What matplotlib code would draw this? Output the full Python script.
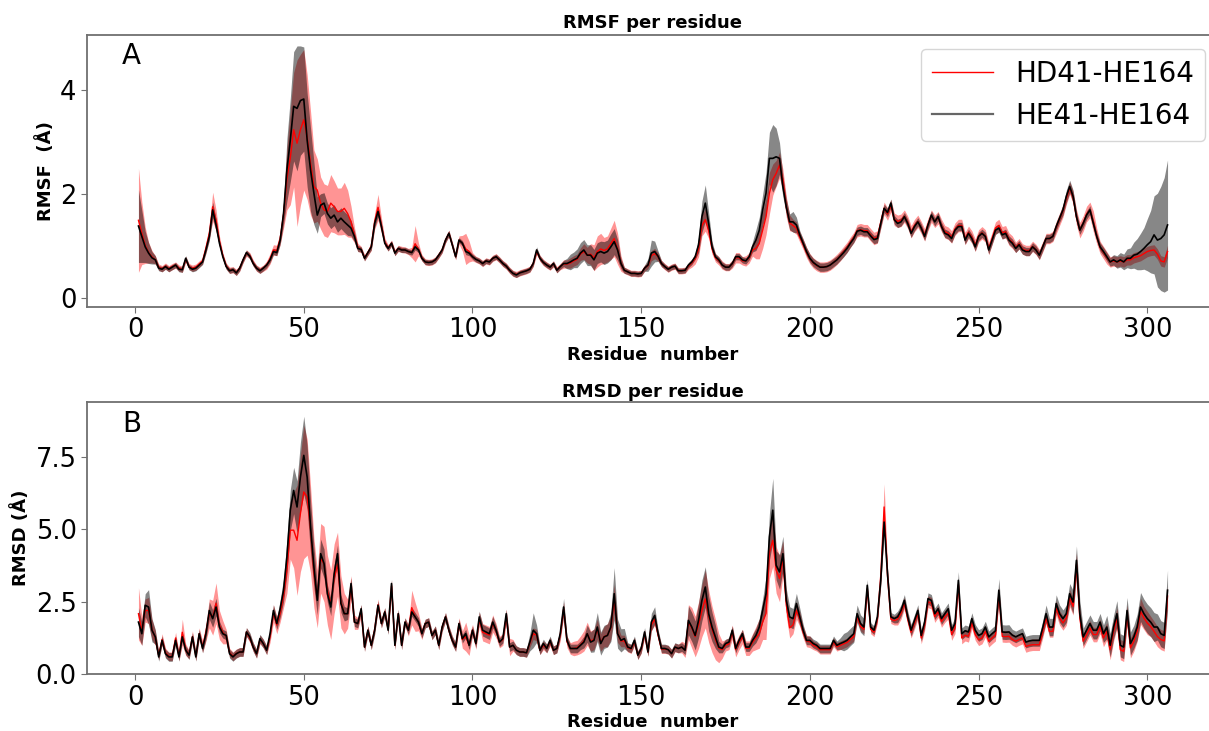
import numpy as np
from matplotlib import pyplot as plt
from matplotlib.lines import Line2D

# residue numbers 1..306
residues = np.arange(1, 307)

# ---------- panel A: RMSF (Angstrom) ----------
rmsf_he41 = [
    1.39, 1.19, 0.99, 0.87, 0.78, 0.74, 0.58, 0.56, 0.61, 0.56,
    0.60, 0.64, 0.56, 0.55, 0.77, 0.60, 0.56, 0.58, 0.64, 0.70,
    0.93, 1.19, 1.70, 1.41, 1.06, 0.80, 0.61, 0.53, 0.55, 0.49,
    0.58, 0.74, 0.88, 0.81, 0.67, 0.58, 0.53, 0.58, 0.64, 0.74,
    0.90, 0.88, 1.12, 1.63, 2.47, 3.04, 3.69, 3.65, 3.80, 3.83,
    3.04, 2.47, 2.02, 1.60, 1.79, 1.83, 1.63, 1.54, 1.60, 1.47,
    1.54, 1.47, 1.41, 1.35, 1.19, 0.96, 0.94, 0.77, 0.88, 0.99,
    1.44, 1.67, 1.38, 1.06, 0.96, 1.06, 0.87, 0.96, 0.93, 0.93,
    0.90, 0.88, 0.99, 0.93, 0.77, 0.70, 0.69, 0.70, 0.74, 0.83,
    0.93, 1.12, 1.25, 1.03, 0.80, 1.12, 1.06, 0.90, 0.87, 0.80,
    0.75, 0.72, 0.67, 0.72, 0.70, 0.77, 0.80, 0.74, 0.67, 0.62,
    0.54, 0.48, 0.45, 0.49, 0.51, 0.53, 0.56, 0.67, 0.93, 0.77,
    0.69, 0.64, 0.60, 0.67, 0.54, 0.61, 0.67, 0.67, 0.70, 0.74,
    0.77, 0.87, 0.93, 0.83, 0.83, 0.74, 0.87, 0.90, 0.87, 0.90,
    0.99, 1.09, 0.93, 0.67, 0.54, 0.51, 0.48, 0.48, 0.47, 0.48,
    0.58, 0.64, 0.87, 0.90, 0.81, 0.67, 0.61, 0.56, 0.60, 0.62,
    0.53, 0.53, 0.54, 0.64, 0.70, 0.80, 1.03, 1.57, 1.83, 1.44,
    0.99, 0.80, 0.74, 0.64, 0.60, 0.60, 0.67, 0.80, 0.80, 0.74,
    0.72, 0.80, 0.99, 1.12, 1.31, 1.70, 2.02, 2.69, 2.69, 2.72,
    2.69, 2.15, 1.76, 1.47, 1.47, 1.41, 1.22, 1.06, 0.90, 0.77,
    0.69, 0.64, 0.60, 0.60, 0.61, 0.64, 0.69, 0.74, 0.81, 0.88,
    0.96, 1.06, 1.15, 1.29, 1.31, 1.28, 1.28, 1.20, 1.13, 1.15,
    1.44, 1.73, 1.65, 1.83, 1.51, 1.44, 1.47, 1.57, 1.44, 1.25,
    1.38, 1.47, 1.35, 1.19, 1.41, 1.60, 1.47, 1.57, 1.38, 1.25,
    1.22, 1.15, 1.31, 1.38, 1.38, 1.12, 1.25, 1.15, 0.99, 1.19,
    1.25, 1.19, 0.93, 1.12, 1.31, 1.35, 1.22, 1.25, 1.12, 1.06,
    0.96, 1.03, 0.93, 0.90, 0.90, 0.99, 0.93, 0.83, 0.99, 1.15,
    1.15, 1.19, 1.38, 1.54, 1.70, 1.96, 2.15, 1.96, 1.57, 1.31,
    1.44, 1.60, 1.70, 1.44, 1.19, 0.99, 0.90, 0.80, 0.70, 0.74,
    0.70, 0.74, 0.70, 0.77, 0.77, 0.83, 0.85, 0.90, 0.96, 1.03,
    1.09, 1.22, 1.12, 1.15, 1.22, 1.41,
]
rmsf_he41_sd = [
    0.70, 0.50, 0.30, 0.20, 0.12, 0.08, 0.05, 0.05, 0.05, 0.05,
    0.05, 0.05, 0.05, 0.05, 0.05, 0.05, 0.05, 0.05, 0.05, 0.05,
    0.06, 0.08, 0.15, 0.12, 0.06, 0.05, 0.05, 0.05, 0.05, 0.05,
    0.05, 0.05, 0.05, 0.05, 0.05, 0.05, 0.05, 0.05, 0.05, 0.05,
    0.06, 0.06, 0.08, 0.20, 0.60, 0.80, 1.05, 1.20, 1.05, 1.00,
    0.90, 0.80, 0.60, 0.35, 0.22, 0.20, 0.20, 0.20, 0.20, 0.20,
    0.20, 0.20, 0.20, 0.15, 0.10, 0.06, 0.05, 0.05, 0.05, 0.06,
    0.08, 0.10, 0.08, 0.05, 0.05, 0.05, 0.05, 0.05, 0.05, 0.05,
    0.05, 0.05, 0.06, 0.05, 0.05, 0.05, 0.05, 0.05, 0.05, 0.05,
    0.05, 0.05, 0.06, 0.05, 0.05, 0.05, 0.05, 0.06, 0.05, 0.05,
    0.05, 0.05, 0.05, 0.05, 0.05, 0.05, 0.05, 0.05, 0.05, 0.05,
    0.05, 0.05, 0.05, 0.05, 0.05, 0.05, 0.05, 0.05, 0.06, 0.05,
    0.05, 0.05, 0.05, 0.05, 0.05, 0.05, 0.06, 0.10, 0.15, 0.15,
    0.18, 0.20, 0.20, 0.20, 0.20, 0.20, 0.20, 0.20, 0.22, 0.22,
    0.25, 0.25, 0.20, 0.10, 0.06, 0.05, 0.05, 0.05, 0.05, 0.05,
    0.06, 0.12, 0.25, 0.20, 0.10, 0.06, 0.05, 0.05, 0.05, 0.05,
    0.05, 0.05, 0.05, 0.05, 0.05, 0.05, 0.15, 0.30, 0.35, 0.20,
    0.10, 0.06, 0.06, 0.06, 0.06, 0.06, 0.06, 0.06, 0.06, 0.06,
    0.06, 0.06, 0.10, 0.20, 0.25, 0.30, 0.40, 0.50, 0.65, 0.55,
    0.30, 0.20, 0.15, 0.15, 0.20, 0.15, 0.08, 0.08, 0.08, 0.08,
    0.08, 0.08, 0.08, 0.08, 0.08, 0.08, 0.08, 0.08, 0.08, 0.08,
    0.08, 0.08, 0.08, 0.08, 0.08, 0.08, 0.08, 0.08, 0.08, 0.08,
    0.08, 0.08, 0.08, 0.08, 0.08, 0.08, 0.08, 0.08, 0.08, 0.08,
    0.08, 0.08, 0.08, 0.08, 0.08, 0.08, 0.08, 0.08, 0.08, 0.08,
    0.08, 0.08, 0.08, 0.08, 0.08, 0.08, 0.08, 0.08, 0.08, 0.08,
    0.08, 0.08, 0.08, 0.08, 0.08, 0.08, 0.08, 0.08, 0.08, 0.08,
    0.08, 0.08, 0.08, 0.08, 0.08, 0.08, 0.08, 0.08, 0.08, 0.08,
    0.08, 0.08, 0.08, 0.08, 0.10, 0.12, 0.12, 0.12, 0.10, 0.08,
    0.08, 0.08, 0.08, 0.08, 0.08, 0.08, 0.08, 0.08, 0.08, 0.10,
    0.12, 0.14, 0.15, 0.18, 0.20, 0.25, 0.30, 0.35, 0.40, 0.50,
    0.60, 0.75, 0.90, 1.00, 1.10, 1.25,
]
rmsf_hd41 = [
    1.50, 1.25, 1.02, 0.88, 0.80, 0.74, 0.60, 0.57, 0.62, 0.57,
    0.61, 0.64, 0.58, 0.56, 0.75, 0.61, 0.58, 0.60, 0.66, 0.72,
    0.97, 1.25, 1.76, 1.50, 1.10, 0.82, 0.62, 0.54, 0.55, 0.50,
    0.58, 0.74, 0.87, 0.82, 0.68, 0.58, 0.54, 0.58, 0.64, 0.76,
    0.93, 0.92, 1.15, 1.60, 2.30, 2.70, 3.24, 2.98, 3.24, 3.43,
    3.10, 2.60, 2.15, 2.08, 1.83, 1.70, 1.67, 1.83, 1.76, 1.67,
    1.67, 1.73, 1.63, 1.47, 1.22, 0.98, 0.94, 0.78, 0.88, 1.00,
    1.48, 1.75, 1.40, 1.08, 0.97, 1.06, 0.88, 0.96, 0.94, 0.93,
    0.90, 0.88, 1.05, 0.94, 0.78, 0.70, 0.69, 0.70, 0.74, 0.83,
    0.93, 1.12, 1.25, 1.03, 0.80, 1.12, 1.06, 0.95, 0.90, 0.80,
    0.75, 0.72, 0.67, 0.72, 0.70, 0.77, 0.80, 0.74, 0.67, 0.62,
    0.54, 0.48, 0.46, 0.49, 0.51, 0.53, 0.56, 0.67, 0.90, 0.77,
    0.69, 0.64, 0.60, 0.66, 0.55, 0.61, 0.66, 0.66, 0.68, 0.72,
    0.75, 0.85, 0.90, 0.83, 0.85, 0.78, 0.90, 0.95, 0.92, 0.95,
    1.05, 1.15, 0.95, 0.67, 0.54, 0.51, 0.48, 0.48, 0.47, 0.48,
    0.58, 0.63, 0.82, 0.86, 0.80, 0.67, 0.61, 0.56, 0.60, 0.62,
    0.53, 0.53, 0.54, 0.62, 0.68, 0.76, 0.95, 1.40, 1.51, 1.30,
    0.95, 0.78, 0.72, 0.64, 0.60, 0.60, 0.66, 0.78, 0.78, 0.72,
    0.72, 0.78, 0.93, 0.96, 1.06, 1.31, 1.57, 2.02, 2.28, 2.40,
    2.56, 2.28, 1.76, 1.45, 1.40, 1.35, 1.18, 1.04, 0.88, 0.76,
    0.68, 0.63, 0.60, 0.60, 0.61, 0.64, 0.69, 0.75, 0.82, 0.90,
    0.98, 1.08, 1.17, 1.30, 1.32, 1.30, 1.30, 1.22, 1.15, 1.18,
    1.46, 1.73, 1.62, 1.78, 1.52, 1.48, 1.50, 1.58, 1.46, 1.28,
    1.40, 1.48, 1.36, 1.22, 1.42, 1.58, 1.48, 1.55, 1.40, 1.28,
    1.25, 1.18, 1.33, 1.40, 1.40, 1.15, 1.27, 1.18, 1.02, 1.20,
    1.26, 1.20, 0.96, 1.15, 1.35, 1.40, 1.26, 1.28, 1.14, 1.08,
    0.98, 1.05, 0.95, 0.92, 0.92, 1.00, 0.94, 0.84, 0.99, 1.15,
    1.15, 1.19, 1.36, 1.52, 1.68, 1.92, 2.12, 1.94, 1.56, 1.31,
    1.44, 1.62, 1.70, 1.48, 1.20, 0.98, 0.88, 0.78, 0.70, 0.72,
    0.70, 0.72, 0.70, 0.74, 0.74, 0.78, 0.80, 0.82, 0.86, 0.90,
    0.92, 0.93, 0.85, 0.72, 0.70, 0.90,
]
rmsf_hd41_sd = [
    1.00, 0.60, 0.35, 0.20, 0.12, 0.08, 0.06, 0.06, 0.06, 0.06,
    0.06, 0.06, 0.06, 0.06, 0.06, 0.06, 0.06, 0.06, 0.06, 0.06,
    0.10, 0.12, 0.28, 0.20, 0.10, 0.06, 0.06, 0.06, 0.06, 0.06,
    0.06, 0.06, 0.06, 0.06, 0.06, 0.06, 0.06, 0.06, 0.08, 0.10,
    0.10, 0.10, 0.12, 0.25, 0.60, 0.90, 1.10, 1.60, 1.45, 1.35,
    1.20, 1.00, 0.70, 0.60, 0.50, 0.50, 0.50, 0.55, 0.50, 0.45,
    0.45, 0.50, 0.45, 0.30, 0.15, 0.08, 0.06, 0.06, 0.06, 0.08,
    0.15, 0.25, 0.15, 0.08, 0.06, 0.06, 0.06, 0.06, 0.06, 0.06,
    0.06, 0.10, 0.35, 0.12, 0.06, 0.06, 0.06, 0.06, 0.06, 0.06,
    0.06, 0.06, 0.06, 0.06, 0.06, 0.08, 0.15, 0.30, 0.20, 0.08,
    0.06, 0.06, 0.06, 0.06, 0.06, 0.06, 0.06, 0.06, 0.06, 0.06,
    0.06, 0.06, 0.06, 0.06, 0.06, 0.06, 0.06, 0.06, 0.06, 0.06,
    0.06, 0.06, 0.06, 0.06, 0.06, 0.06, 0.08, 0.08, 0.10, 0.10,
    0.10, 0.12, 0.15, 0.15, 0.20, 0.25, 0.30, 0.30, 0.25, 0.25,
    0.30, 0.35, 0.30, 0.15, 0.06, 0.06, 0.06, 0.06, 0.06, 0.06,
    0.06, 0.06, 0.10, 0.10, 0.08, 0.06, 0.06, 0.06, 0.06, 0.06,
    0.06, 0.06, 0.06, 0.06, 0.08, 0.10, 0.15, 0.20, 0.22, 0.15,
    0.10, 0.08, 0.08, 0.08, 0.07, 0.07, 0.08, 0.10, 0.10, 0.08,
    0.10, 0.10, 0.12, 0.20, 0.30, 0.35, 0.35, 0.40, 0.30, 0.25,
    0.25, 0.20, 0.20, 0.15, 0.12, 0.12, 0.10, 0.10, 0.10, 0.10,
    0.10, 0.10, 0.10, 0.10, 0.10, 0.10, 0.10, 0.10, 0.10, 0.10,
    0.10, 0.10, 0.10, 0.12, 0.12, 0.12, 0.12, 0.12, 0.12, 0.12,
    0.12, 0.12, 0.12, 0.12, 0.12, 0.12, 0.12, 0.12, 0.12, 0.12,
    0.12, 0.12, 0.12, 0.12, 0.12, 0.12, 0.12, 0.12, 0.12, 0.12,
    0.12, 0.12, 0.12, 0.12, 0.12, 0.12, 0.12, 0.12, 0.12, 0.12,
    0.12, 0.12, 0.12, 0.12, 0.12, 0.12, 0.12, 0.12, 0.12, 0.12,
    0.10, 0.10, 0.10, 0.10, 0.10, 0.10, 0.10, 0.10, 0.10, 0.10,
    0.10, 0.10, 0.12, 0.12, 0.12, 0.12, 0.12, 0.12, 0.15, 0.15,
    0.15, 0.15, 0.15, 0.20, 0.15, 0.12, 0.12, 0.12, 0.10, 0.10,
    0.10, 0.10, 0.10, 0.10, 0.10, 0.10, 0.10, 0.10, 0.10, 0.10,
    0.10, 0.10, 0.10, 0.10, 0.10, 0.12,
]

# ---------- panel B: RMSD (Angstrom) ----------
rmsd_he41 = [
    1.80, 1.40, 2.38, 2.32, 1.52, 1.29, 0.60, 1.17, 0.71, 0.60,
    0.60, 1.17, 0.60, 1.29, 0.83, 0.66, 1.29, 0.60, 1.40, 0.89,
    1.40, 2.20, 1.92, 2.32, 1.63, 1.40, 1.34, 0.71, 0.60, 0.71,
    0.77, 0.77, 1.46, 1.29, 0.94, 0.71, 1.23, 1.06, 0.83, 1.40,
    2.20, 1.75, 2.26, 2.90, 4.05, 5.66, 6.34, 5.77, 6.80, 7.55,
    6.80, 5.08, 3.70, 2.55, 4.16, 3.82, 2.78, 2.32, 3.47, 4.16,
    2.44, 2.09, 2.09, 3.13, 1.80, 1.75, 2.26, 0.94, 1.52, 1.00,
    1.52, 2.38, 1.75, 2.15, 1.52, 3.13, 1.00, 2.09, 1.00, 1.80,
    1.52, 2.15, 1.98, 1.80, 1.40, 1.75, 1.80, 1.34, 1.52, 1.00,
    1.63, 1.98, 1.52, 1.17, 0.94, 1.75, 1.23, 1.40, 1.00, 1.52,
    1.06, 1.98, 1.52, 1.46, 1.40, 1.80, 1.52, 1.11, 1.23, 2.09,
    0.94, 1.00, 0.83, 0.77, 0.77, 0.74, 1.11, 1.52, 1.40, 0.83,
    1.06, 0.89, 1.17, 0.83, 0.89, 1.40, 2.32, 1.17, 0.89, 0.89,
    0.89, 1.00, 1.11, 1.40, 1.11, 1.17, 1.63, 1.06, 1.29, 1.34,
    1.63, 2.78, 1.40, 1.17, 1.23, 0.94, 0.89, 1.17, 0.66, 0.89,
    1.46, 0.77, 1.80, 2.03, 1.40, 0.89, 0.89, 0.85, 0.71, 0.94,
    0.89, 0.94, 0.83, 1.86, 1.63, 1.34, 1.86, 2.55, 3.01, 2.09,
    1.63, 1.29, 0.94, 0.89, 1.06, 1.11, 1.52, 0.89, 1.17, 1.40,
    0.94, 0.94, 1.17, 1.34, 1.63, 2.20, 2.78, 4.74, 5.66, 3.76,
    3.53, 4.16, 2.55, 1.98, 1.92, 2.44, 1.98, 1.52, 1.17, 1.17,
    1.06, 1.00, 0.89, 0.89, 0.89, 0.89, 1.17, 1.00, 1.06, 1.11,
    1.17, 1.29, 1.40, 2.09, 1.75, 1.63, 3.07, 1.63, 1.52, 1.98,
    3.24, 5.25, 3.47, 1.98, 1.92, 1.98, 2.20, 2.55, 1.98, 1.52,
    1.86, 2.20, 1.34, 1.80, 2.61, 2.55, 2.09, 2.26, 1.92, 2.09,
    2.26, 1.52, 1.75, 3.24, 1.40, 1.50, 1.46, 1.92, 1.52, 1.34,
    1.40, 1.63, 1.29, 1.40, 1.50, 2.90, 1.46, 1.45, 1.46, 1.35,
    1.29, 1.35, 1.40, 1.11, 1.15, 1.17, 1.17, 1.17, 1.60, 2.09,
    1.63, 1.63, 2.44, 2.09, 1.92, 2.09, 2.78, 2.49, 3.93, 2.09,
    1.29, 1.52, 1.75, 1.52, 1.52, 1.80, 1.40, 1.63, 1.00, 1.63,
    2.09, 1.00, 0.94, 2.20, 1.06, 1.29, 1.63, 2.32, 2.09, 1.92,
    1.80, 1.63, 1.63, 1.40, 1.34, 2.90,
]
rmsd_he41_sd = [
    0.50, 0.40, 0.40, 0.60, 0.40, 0.25, 0.15, 0.15, 0.15, 0.15,
    0.15, 0.15, 0.15, 0.15, 0.15, 0.15, 0.15, 0.15, 0.15, 0.15,
    0.20, 0.30, 0.30, 0.30, 0.20, 0.15, 0.15, 0.15, 0.15, 0.15,
    0.15, 0.15, 0.15, 0.15, 0.15, 0.15, 0.15, 0.15, 0.15, 0.15,
    0.20, 0.20, 0.30, 0.40, 0.60, 0.70, 0.80, 0.90, 1.20, 1.35,
    1.10, 0.90, 0.70, 0.50, 0.50, 0.50, 0.30, 0.30, 0.30, 0.30,
    0.30, 0.25, 0.20, 0.20, 0.15, 0.15, 0.15, 0.15, 0.15, 0.15,
    0.15, 0.15, 0.15, 0.15, 0.15, 0.15, 0.15, 0.15, 0.15, 0.15,
    0.15, 0.15, 0.15, 0.15, 0.15, 0.15, 0.15, 0.15, 0.15, 0.15,
    0.15, 0.15, 0.15, 0.15, 0.15, 0.15, 0.15, 0.15, 0.15, 0.15,
    0.15, 0.20, 0.20, 0.20, 0.20, 0.20, 0.15, 0.15, 0.15, 0.15,
    0.15, 0.15, 0.15, 0.15, 0.15, 0.15, 0.30, 0.60, 0.30, 0.15,
    0.15, 0.15, 0.15, 0.15, 0.15, 0.15, 0.30, 0.15, 0.15, 0.15,
    0.15, 0.15, 0.20, 0.30, 0.35, 0.40, 0.50, 0.40, 0.40, 0.40,
    0.50, 0.90, 0.50, 0.40, 0.35, 0.15, 0.15, 0.15, 0.15, 0.15,
    0.15, 0.15, 0.30, 0.30, 0.15, 0.15, 0.15, 0.15, 0.15, 0.15,
    0.15, 0.15, 0.15, 0.50, 0.50, 0.50, 0.60, 0.70, 0.70, 0.60,
    0.50, 0.40, 0.20, 0.15, 0.15, 0.15, 0.15, 0.15, 0.15, 0.15,
    0.15, 0.15, 0.20, 0.25, 0.30, 0.40, 0.60, 0.80, 1.10, 0.50,
    0.60, 0.60, 0.40, 0.35, 0.35, 0.35, 0.30, 0.20, 0.15, 0.15,
    0.15, 0.15, 0.15, 0.15, 0.15, 0.15, 0.15, 0.15, 0.20, 0.30,
    0.30, 0.30, 0.30, 0.30, 0.30, 0.30, 0.20, 0.15, 0.15, 0.15,
    0.20, 0.30, 0.20, 0.15, 0.15, 0.20, 0.20, 0.20, 0.20, 0.20,
    0.20, 0.20, 0.20, 0.20, 0.20, 0.20, 0.20, 0.20, 0.20, 0.20,
    0.20, 0.20, 0.20, 0.30, 0.20, 0.20, 0.20, 0.20, 0.20, 0.20,
    0.20, 0.20, 0.20, 0.20, 0.20, 0.40, 0.25, 0.25, 0.25, 0.20,
    0.20, 0.20, 0.20, 0.20, 0.20, 0.20, 0.20, 0.20, 0.25, 0.30,
    0.30, 0.30, 0.30, 0.30, 0.30, 0.30, 0.35, 0.40, 0.50, 0.45,
    0.30, 0.30, 0.30, 0.30, 0.30, 0.30, 0.30, 0.40, 0.40, 0.40,
    0.45, 0.40, 0.40, 0.45, 0.40, 0.40, 0.45, 0.50, 0.50, 0.50,
    0.50, 0.50, 0.45, 0.45, 0.45, 0.70,
]
rmsd_hd41 = [
    2.09, 1.50, 2.20, 2.20, 1.55, 1.25, 0.65, 1.20, 0.75, 0.62,
    0.62, 1.25, 0.62, 1.45, 0.85, 0.68, 1.30, 0.62, 1.40, 0.95,
    1.45, 2.10, 1.95, 2.45, 1.70, 1.45, 1.30, 0.75, 0.62, 0.72,
    0.77, 0.77, 1.46, 1.25, 0.94, 0.71, 1.20, 1.06, 0.83, 1.30,
    2.10, 1.70, 2.10, 2.70, 3.60, 4.97, 4.97, 4.62, 5.54, 6.29,
    6.11, 5.00, 3.50, 2.60, 4.00, 3.80, 2.90, 2.40, 3.30, 3.80,
    2.50, 2.09, 2.09, 3.00, 1.80, 1.75, 2.20, 0.94, 1.52, 1.00,
    1.55, 2.40, 1.75, 2.15, 1.55, 3.05, 1.00, 2.09, 1.00, 1.80,
    1.52, 2.30, 1.98, 1.80, 1.40, 1.75, 1.80, 1.34, 1.52, 1.00,
    1.63, 1.98, 1.52, 1.17, 0.94, 1.75, 1.20, 1.30, 1.00, 1.52,
    1.06, 1.90, 1.45, 1.40, 1.35, 1.75, 1.50, 1.11, 1.20, 2.00,
    0.94, 1.00, 0.83, 0.77, 0.77, 0.74, 1.08, 1.40, 1.35, 0.83,
    1.00, 0.89, 1.12, 0.83, 0.89, 1.35, 2.25, 1.12, 0.89, 0.89,
    0.92, 1.02, 1.15, 1.40, 1.15, 1.20, 1.55, 1.10, 1.30, 1.35,
    1.60, 2.60, 1.40, 1.15, 1.15, 0.92, 0.87, 1.12, 0.66, 0.87,
    1.40, 0.77, 1.70, 1.90, 1.35, 0.87, 0.87, 0.85, 0.71, 0.92,
    0.89, 0.94, 0.83, 1.80, 1.60, 1.30, 1.70, 2.20, 2.60, 2.00,
    1.55, 1.20, 0.90, 0.85, 1.00, 1.05, 1.45, 0.85, 1.10, 1.30,
    0.90, 0.90, 1.10, 1.25, 1.40, 1.80, 2.10, 4.20, 4.62, 3.60,
    3.30, 4.00, 2.40, 1.60, 1.70, 2.20, 1.90, 1.45, 1.15, 1.12,
    1.00, 0.95, 0.85, 0.85, 0.85, 0.85, 1.10, 0.95, 1.00, 1.05,
    1.10, 1.20, 1.30, 2.00, 1.65, 1.55, 2.95, 1.55, 1.45, 1.90,
    3.40, 5.77, 3.40, 1.90, 1.85, 1.90, 2.10, 2.45, 1.90, 1.45,
    1.76, 2.10, 1.25, 1.70, 2.50, 2.45, 1.99, 2.16, 1.82, 1.99,
    2.11, 1.37, 1.60, 3.09, 1.25, 1.35, 1.31, 1.77, 1.37, 1.19,
    1.25, 1.48, 1.14, 1.25, 1.35, 2.75, 1.31, 1.30, 1.31, 1.20,
    1.14, 1.20, 1.25, 0.96, 1.00, 1.02, 1.02, 1.02, 1.45, 1.94,
    1.48, 1.48, 2.29, 1.94, 1.77, 1.94, 2.63, 2.34, 3.78, 1.94,
    1.14, 1.37, 1.60, 1.37, 1.37, 1.65, 1.25, 1.48, 0.85, 1.48,
    1.94, 0.85, 0.79, 2.05, 0.91, 1.14, 1.48, 2.17, 1.94, 1.77,
    1.65, 1.48, 1.30, 1.20, 1.15, 2.70,
]
rmsd_hd41_sd = [
    0.90, 0.50, 0.40, 0.45, 0.35, 0.25, 0.15, 0.20, 0.15, 0.15,
    0.15, 0.20, 0.15, 0.45, 0.20, 0.15, 0.20, 0.15, 0.20, 0.20,
    0.30, 0.50, 0.60, 0.70, 0.50, 0.40, 0.25, 0.15, 0.15, 0.15,
    0.15, 0.15, 0.15, 0.15, 0.15, 0.15, 0.15, 0.15, 0.15, 0.20,
    0.30, 0.30, 0.30, 0.40, 0.80, 1.00, 1.30, 1.90, 2.00, 2.30,
    2.00, 1.50, 1.20, 1.00, 1.20, 1.30, 1.20, 1.20, 1.20, 1.10,
    0.90, 0.70, 0.50, 0.40, 0.25, 0.20, 0.20, 0.15, 0.15, 0.15,
    0.15, 0.20, 0.15, 0.15, 0.15, 0.20, 0.15, 0.15, 0.15, 0.15,
    0.20, 0.60, 0.50, 0.30, 0.20, 0.15, 0.15, 0.15, 0.15, 0.15,
    0.15, 0.15, 0.15, 0.15, 0.15, 0.20, 0.30, 0.50, 0.35, 0.20,
    0.20, 0.25, 0.30, 0.30, 0.30, 0.30, 0.25, 0.20, 0.20, 0.25,
    0.30, 0.20, 0.15, 0.15, 0.15, 0.15, 0.15, 0.20, 0.20, 0.15,
    0.15, 0.15, 0.15, 0.15, 0.15, 0.20, 0.25, 0.20, 0.20, 0.25,
    0.25, 0.30, 0.35, 0.40, 0.35, 0.35, 0.35, 0.30, 0.35, 0.40,
    0.40, 0.50, 0.30, 0.20, 0.20, 0.15, 0.15, 0.15, 0.15, 0.15,
    0.15, 0.15, 0.20, 0.20, 0.15, 0.15, 0.15, 0.15, 0.15, 0.15,
    0.15, 0.20, 0.25, 0.60, 0.70, 0.70, 0.80, 0.90, 1.00, 0.90,
    0.80, 0.70, 0.50, 0.30, 0.20, 0.20, 0.25, 0.25, 0.25, 0.25,
    0.25, 0.25, 0.30, 0.40, 0.50, 0.60, 0.90, 0.90, 0.90, 0.80,
    0.80, 0.60, 0.40, 0.35, 0.30, 0.30, 0.25, 0.20, 0.20, 0.20,
    0.15, 0.15, 0.15, 0.15, 0.15, 0.15, 0.15, 0.15, 0.15, 0.15,
    0.15, 0.15, 0.15, 0.15, 0.15, 0.15, 0.15, 0.15, 0.15, 0.15,
    0.30, 0.80, 0.30, 0.15, 0.15, 0.20, 0.20, 0.20, 0.20, 0.20,
    0.20, 0.20, 0.20, 0.20, 0.20, 0.20, 0.20, 0.20, 0.20, 0.20,
    0.20, 0.20, 0.20, 0.20, 0.20, 0.20, 0.20, 0.20, 0.20, 0.20,
    0.20, 0.20, 0.20, 0.20, 0.20, 0.25, 0.20, 0.20, 0.20, 0.20,
    0.20, 0.20, 0.20, 0.20, 0.20, 0.20, 0.20, 0.20, 0.20, 0.20,
    0.20, 0.20, 0.25, 0.25, 0.25, 0.25, 0.30, 0.30, 0.40, 0.30,
    0.25, 0.25, 0.25, 0.25, 0.25, 0.25, 0.30, 0.30, 0.35, 0.35,
    0.35, 0.35, 0.35, 0.35, 0.35, 0.35, 0.35, 0.45, 0.40, 0.40,
    0.35, 0.35, 0.35, 0.35, 0.35, 0.35,
]

labels = ["HD41-HE164", "HE41-HE164"]

SPINE = "#707070"


def style_axis(ax):
    for s in ax.spines.values():
        s.set_color(SPINE)
        s.set_linewidth(1.3)
    # right edge of the axes sits outside the saved image
    ax.spines["right"].set_visible(False)
    ax.tick_params(axis="both", labelsize=18.5, color=SPINE, length=4)
    ax.set_xlim(-14.25, 321.25)


def draw_panel(ax, red_mean, red_sd, blk_mean, blk_sd):
    red_mean, red_sd = np.array(red_mean), np.array(red_sd)
    blk_mean, blk_sd = np.array(blk_mean), np.array(blk_sd)
    ax.fill_between(residues, red_mean - red_sd, red_mean + red_sd,
                    color="red", alpha=0.42, lw=0)
    ax.fill_between(residues, blk_mean - blk_sd, blk_mean + blk_sd,
                    color="black", alpha=0.47, lw=0)
    ax.plot(residues, red_mean, color="red", lw=1.0)
    ax.plot(residues, blk_mean, color="black", lw=1.2)


fig = plt.figure(figsize=(12.09, 7.31), dpi=100)
W, H = 1209.0, 731.0
ax1 = fig.add_axes([87 / W, 1 - 306.7 / H, (1219 - 87) / W, (306.7 - 35) / H])
ax2 = fig.add_axes([87 / W, 1 - 674.3 / H, (1219 - 87) / W, (674.3 - 402.3) / H])

# panel A
draw_panel(ax1, rmsf_hd41, rmsf_hd41_sd, rmsf_he41, rmsf_he41_sd)
style_axis(ax1)
ax1.set_ylim(-0.16, 5.06)
ax1.set_yticks([0, 2, 4])
ax1.set_title("RMSF per residue", fontsize=13, fontweight="bold", pad=5)
ax1.set_xlabel("Residue  number", fontsize=13, fontweight="bold", labelpad=2)
ax1.set_ylabel("RMSF  (Å)", fontsize=13, fontweight="bold")
ax1.text(0.031, 0.895, "A", transform=ax1.transAxes, fontsize=20)
handles = [Line2D([], [], color="red", lw=1.0),
           Line2D([], [], color="#666666", lw=1.6)]
ax1.legend(handles, labels, loc="upper right", fontsize=20,
           handlelength=2.2, borderaxespad=0.5)

# panel B
draw_panel(ax2, rmsd_hd41, rmsd_hd41_sd, rmsd_he41, rmsd_he41_sd)
style_axis(ax2)
ax2.set_ylim(0, 9.38)
ax2.set_yticks([0.0, 2.5, 5.0, 7.5])
ax2.set_title("RMSD per residue", fontsize=13, fontweight="bold", pad=4)
ax2.set_xlabel("Residue  number", fontsize=13, fontweight="bold", labelpad=2)
ax2.set_ylabel("RMSD (Å)", fontsize=13, fontweight="bold")
ax2.text(0.031, 0.89, "B", transform=ax2.transAxes, fontsize=20)

fig.savefig("out.png", dpi=100)
